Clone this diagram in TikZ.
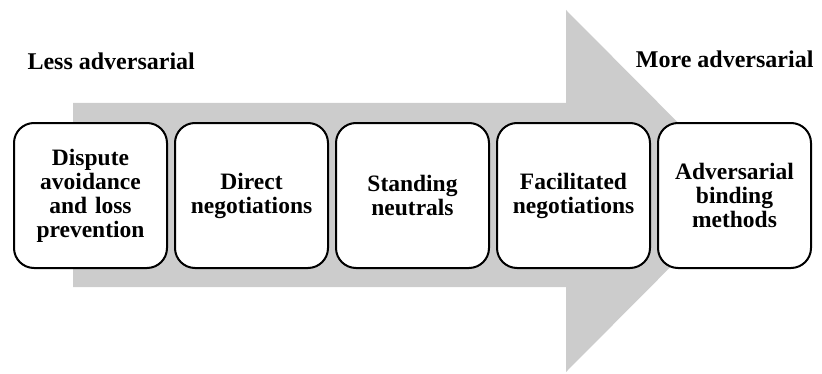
\documentclass[tikz,border=0pt]{standalone}
\usepackage{fontspec}
\setmainfont{Liberation Serif}
\usetikzlibrary{positioning}
\definecolor{arrowgray}{RGB}{204,204,204}

\begin{document}
\begin{tikzpicture}[x=1pt,y=1pt,
    stage/.style={draw, line width=2pt, rounded corners=20pt, fill=white,
      minimum width=153pt, minimum height=145pt, text width=140pt, align=center,
      font=\fontsize{23.5}{24}\selectfont\bfseries},
    sidelabel/.style={font=\fontsize{24}{26}\selectfont\bfseries}]
        \useasboundingbox (0,0) rectangle (822,373);

        % Big gray arrow behind the boxes
        \fill[arrowgray] (73,270) -- (566,270) -- (566,363) -- (746,182)
          -- (566,1) -- (566,86) -- (73,86) -- cycle;

        % Labels at both ends
        \node[sidelabel, anchor=base west] (less) at (24,303) {Less adversarial};
        \node[sidelabel, anchor=base east] (more) at (817,305) {More adversarial};

        % The five stages
        \node[stage] (avoid) at (90.5,177.5) {Dispute\\avoidance\\and loss\\prevention};
        \node[stage, right=6pt of avoid] (direct) {Direct\\negotiations};
        \node[stage, right=6pt of direct] (neutral) {Standing\\neutrals};
        \node[stage, right=6pt of neutral] (facil) {Facilitated\\negotiations};
        \node[stage, right=6pt of facil] (binding) {Adversarial\\binding\\methods};
    \end{tikzpicture}
\end{document}
